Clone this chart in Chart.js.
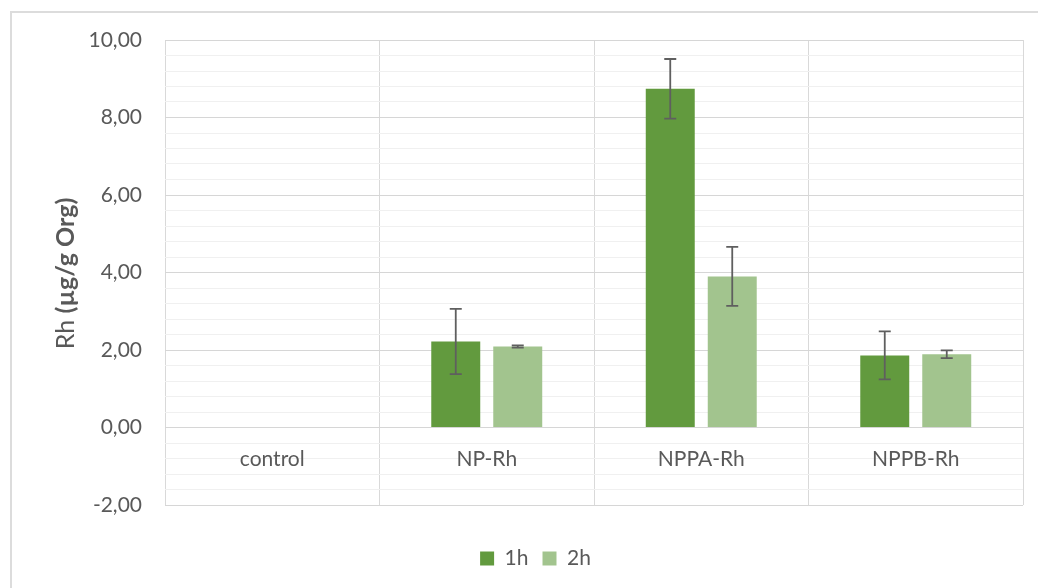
<!DOCTYPE html>
<html>
<head>
<meta charset="utf-8">
<script src="https://cdn.jsdelivr.net/npm/chart.js@4.4.1/dist/chart.umd.min.js"></script>
<style>
  html, body { margin: 0; padding: 0; background: #ffffff; }
  #wrap { position: relative; width: 1038px; height: 588px; }
</style>
</head>
<body>
<div id="wrap"><canvas id="chart"></canvas></div>
<script>
// Rhodium uptake per sample after 1 h and 2 h
const categories = ['control', 'NP-Rh', 'NPPA-Rh', 'NPPB-Rh'];
const seriesNames = ['1h', '2h'];
const values1h = [null, 2.22, 8.74, 1.86];
const values2h = [null, 2.09, 3.90, 1.89];
const errors1h = [null, 0.84, 0.77, 0.62];
const errors2h = [null, 0.03, 0.76, 0.10];
const yMin = -2;
const yMax = 10;
const majorStep = 2;
const minorStep = 0.4;

const FONT = 'Lato, "Open Sans", sans-serif';
const TEXT = '#595959';

const isMajor = v => Math.abs(v / majorStep - Math.round(v / majorStep)) < 1e-6;
const fmt = v => v.toFixed(2).replace('.', ',');

// light frame around the whole figure
const framePlugin = {
  id: 'frame',
  beforeDraw(chart) {
    const c = chart.ctx;
    c.save();
    c.strokeStyle = '#dcdcdc';
    c.lineWidth = 2;
    c.strokeRect(11, 12, 1200, 800);
    c.restore();
  }
};

// category names sit just under the zero line
const categoryLabelPlugin = {
  id: 'categoryLabels',
  afterDatasetsDraw(chart) {
    const c = chart.ctx;
    const x = chart.scales.x;
    const y = chart.scales.y;
    const ly = y.getPixelForValue(0) + 32;
    c.save();
    c.font = '21px ' + FONT;
    c.fillStyle = TEXT;
    c.textAlign = 'center';
    c.textBaseline = 'middle';
    categories.forEach((name, i) => c.fillText(name, x.getPixelForValue(i), ly));
    c.restore();
  }
};

// standard-deviation whiskers
const errorBarPlugin = {
  id: 'errorBars',
  afterDatasetsDraw(chart) {
    const c = chart.ctx;
    const y = chart.scales.y;
    c.save();
    c.strokeStyle = '#5f5f5f';
    c.lineWidth = 1.8;
    chart.data.datasets.forEach((ds, di) => {
      const meta = chart.getDatasetMeta(di);
      meta.data.forEach((bar, i) => {
        const v = ds.data[i];
        const e = ds.errors[i];
        if (v == null || e == null) return;
        const top = y.getPixelForValue(v + e);
        const bot = y.getPixelForValue(v - e);
        const cap = 6;
        c.beginPath();
        c.moveTo(bar.x, top); c.lineTo(bar.x, bot);
        c.moveTo(bar.x - cap, top); c.lineTo(bar.x + cap, top);
        c.moveTo(bar.x - cap, bot); c.lineTo(bar.x + cap, bot);
        c.stroke();
      });
    });
    c.restore();
  }
};

// vertical axis title, element symbol in regular weight, unit in bold
const yTitlePlugin = {
  id: 'yTitle',
  afterDraw(chart) {
    const c = chart.ctx;
    const area = chart.chartArea;
    const cx = 66;
    const cy = (area.top + area.bottom) / 2 + 1;
    const partA = 'Rh ';
    const partB = '(µg/g Org)';
    const fontA = '25px ' + FONT;
    const fontB = 'bold 25px ' + FONT;
    c.save();
    c.font = fontA; const wA = c.measureText(partA).width;
    c.font = fontB; const wB = c.measureText(partB).width;
    c.translate(cx, cy);
    c.rotate(-Math.PI / 2);
    c.fillStyle = TEXT;
    c.textBaseline = 'middle';
    c.textAlign = 'left';
    const start = -(wA + wB) / 2;
    c.font = fontA; c.fillText(partA, start, 0);
    c.font = fontB; c.fillText(partB, start + wA, 0);
    c.restore();
  }
};

new Chart(document.getElementById('chart'), {
  type: 'bar',
  data: {
    labels: categories,
    datasets: [
      { label: seriesNames[0], data: values1h, errors: errors1h, backgroundColor: '#629a3e' },
      { label: seriesNames[1], data: values2h, errors: errors2h, backgroundColor: '#a2c48e' }
    ]
  },
  options: {
    responsive: true,
    maintainAspectRatio: false,
    devicePixelRatio: 1,
    animation: false,
    layout: { padding: { left: 48, right: 15, top: 40, bottom: 9 } },
    datasets: { bar: { categoryPercentage: 0.578, barPercentage: 0.79, borderWidth: 0 } },
    plugins: {
      tooltip: { enabled: false },
      legend: {
        position: 'bottom',
        labels: {
          font: { family: FONT, size: 21 },
          color: TEXT,
          boxWidth: 14,
          boxHeight: 14,
          padding: 14
        }
      }
    },
    scales: {
      x: {
        grid: { offset: true, color: '#d9d9d9', lineWidth: 1, drawTicks: false },
        border: { display: false },
        ticks: { display: false },
        afterFit(scale) { scale.height = 29; }
      },
      y: {
        min: yMin,
        max: yMax,
        border: { display: false },
        grid: {
          drawTicks: false,
          color: ctx => isMajor(ctx.tick.value) ? '#d6d6d6' : '#f0f0f0',
          lineWidth: 1
        },
        ticks: {
          stepSize: minorStep,
          autoSkip: false,
          padding: 23,
          color: TEXT,
          font: { family: FONT, size: 21 },
          callback: v => isMajor(v) ? fmt(v) : ''
        },
        afterFit(scale) { scale.width = 117; }
      }
    }
  },
  plugins: [framePlugin, categoryLabelPlugin, errorBarPlugin, yTitlePlugin]
});
</script>
</body>
</html>
